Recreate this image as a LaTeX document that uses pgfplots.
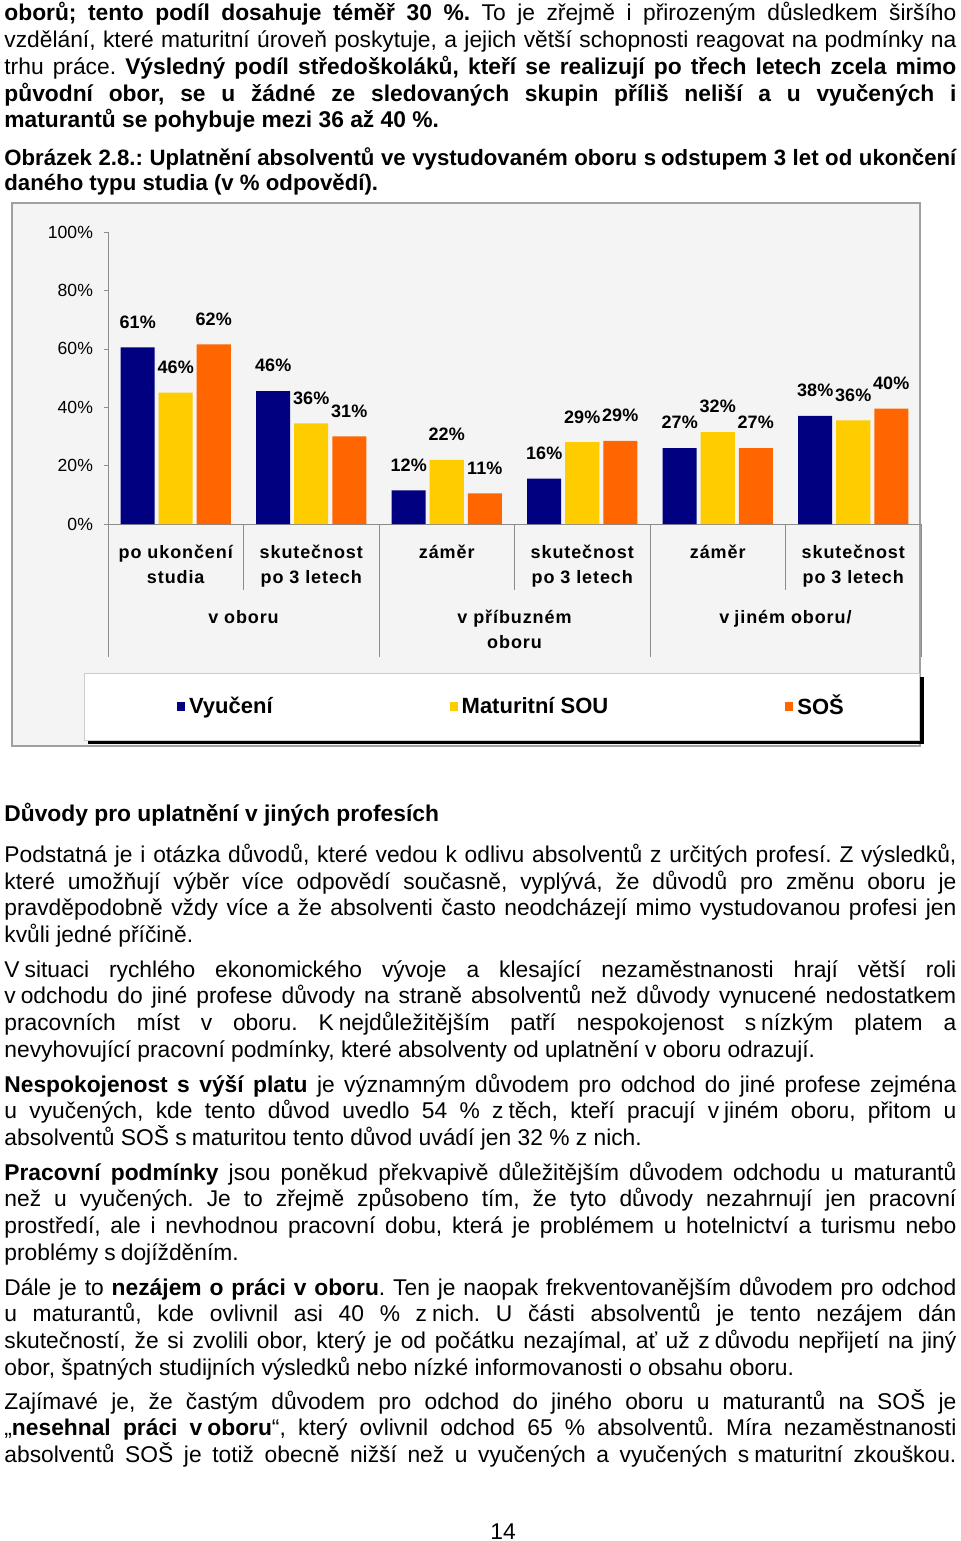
\documentclass[border=0pt]{standalone}
\usepackage{fontspec}
\setmainfont{Liberation Sans}
\newfontfamily\spacedfont[LetterSpace=5]{Liberation Sans}
\usepackage{pgfplots}
\pgfplotsset{compat=1.18}
\frenchspacing
\definecolor{navy}{HTML}{000080}
\definecolor{gold}{HTML}{FFCC00}
\definecolor{orng}{HTML}{FF6600}
\definecolor{chartbg}{HTML}{F4F4F4}
\definecolor{framegray}{HTML}{A0A0A0}
\definecolor{axgray}{HTML}{8C8C8C}
\newcommand{\nb}{\nobreak\hspace{2.5pt}}
\newcommand{\para}[2]{\node[anchor=base west, inner sep=0pt, text width=476pt, align=justify, font=\fontsize{11.4}{13.35}\selectfont] at (2pt,#1) {#2};}
\begin{document}
\begin{tikzpicture}
\path[use as bounding box] (0,0) rectangle (480pt,-770.5pt);
% text above the chart
\para{-10.5pt}{\textbf{oborů; tento podíl dosahuje téměř 30 \%.} To je zřejmě i přirozeným důsledkem širšího\linebreak
vzdělání, které maturitní úroveň poskytuje, a jejich větší schopnosti reagovat na podmínky na\linebreak
trhu práce. \textbf{Výsledný podíl středoškoláků, kteří se realizují po třech letech zcela mimo\linebreak
původní obor, se u žádné ze sledovaných skupin příliš neliší a u vyučených i\linebreak
maturantů se pohybuje mezi 36 až 40 \%.}}
\node[anchor=base west, inner sep=0pt, text width=476pt, align=justify, font=\bfseries\fontsize{11.1}{12.6}\selectfont] at (2pt,-82.5pt) {Obrázek 2.8.: Uplatnění absolventů ve vystudovaném oboru s\nb odstupem 3 let od ukončení\linebreak
daného typu studia (v \% odpovědí).};
% chart frame
\fill[chartbg] (6pt,-101.5pt) rectangle (460pt,-373pt);
\draw[framegray, line width=0.75pt] (6pt,-101.5pt) rectangle (460pt,-373pt);
\fill[black] (44pt,-338.5pt) rectangle (462pt,-372pt);
\filldraw[fill=white, draw=black!20, line width=0.4pt] (42pt,-336.5pt) rectangle (459.5pt,-370pt);
\begin{axis}[
 at={(54pt,-262pt)}, anchor=south west,
 width=406.5pt, height=146pt, scale only axis,
 xmin=-0.5, xmax=5.5, ymin=0, ymax=100,
 clip=false,
 ybar=2pt, bar width=17pt,
 axis x line=bottom, axis y line=left,
 axis line style={-, draw=axgray},
 ytick={0,20,40,60,80,100},
 yticklabels={0\%,20\%,40\%,60\%,80\%,100\%},
 yticklabel style={font=\fontsize{8.8}{10}\selectfont, xshift=-2pt},
 tick align=outside, major tick length=2pt,
 ytick style={draw=axgray},
 xtick={0,1,2,3,4,5},
 xtick style={draw=none},
 xticklabels={{po ukončení\\studia},{skutečnost\\po 3 letech},{záměr},{skutečnost\\po 3 letech},{záměr},{skutečnost\\po 3 letech}},
 xticklabel style={align=center, font=\spacedfont\bfseries\fontsize{9}{12.5}\selectfont, yshift=-5pt},
 nodes near coords,
 point meta=explicit symbolic,
 every node near coord/.append style={font=\bfseries\fontsize{9}{10}\selectfont, yshift=6pt},
 legend columns=3,
 legend style={at={(0.4975,-0.625)}, anchor=center, draw=none, fill=none,
   font=\bfseries\fontsize{11}{13}\selectfont,
   /tikz/every even column/.append style={column sep=86.5pt}},
]
\addplot[fill=navy, draw=none, legend image code/.code={\fill[navy] (-2pt,-2pt) rectangle (2pt,2.5pt);}]
 coordinates {(0,60.5)[61\%] (1,45.5)[46\%] (2,11.5)[12\%] (3,15.5)[16\%] (4,26)[27\%] (5,37)[38\%]};
\addlegendentry{Vyučení}
\addplot[fill=gold, draw=none, legend image code/.code={\fill[gold] (-2pt,-2pt) rectangle (2pt,2.5pt);}]
 coordinates {(0,45)[46\%] (1,34.5)[36\%] (2,22)[22\%] (3,28)[29\%] (4,31.5)[32\%] (5,35.5)[36\%]};
\addlegendentry{Maturitní SOU}
\addplot[fill=orng, draw=none, legend image code/.code={\fill[orng] (-2pt,-2pt) rectangle (2pt,2.5pt);}]
 coordinates {(0,61.5)[62\%] (1,30)[31\%] (2,10.5)[11\%] (3,28.5)[29\%] (4,26)[27\%] (5,39.5)[40\%]};
\addlegendentry{SOŠ}
\draw[axgray] (axis cs:-0.5,0) -- ++(0pt,-66.5pt);
\draw[axgray] (axis cs:1.5,0) -- ++(0pt,-66.5pt);
\draw[axgray] (axis cs:3.5,0) -- ++(0pt,-66.5pt);
\draw[axgray] (axis cs:5.5,0) -- ++(0pt,-66.5pt);
\draw[axgray] (axis cs:0.5,0) -- ++(0pt,-33pt);
\draw[axgray] (axis cs:2.5,0) -- ++(0pt,-33pt);
\draw[axgray] (axis cs:4.5,0) -- ++(0pt,-33pt);
\node[anchor=base, inner sep=0pt, font=\spacedfont\bfseries\fontsize{9}{12.5}\selectfont] at ([yshift=-49.5pt]axis cs:0.5,0) {v oboru};
\node[anchor=base, inner sep=0pt, font=\spacedfont\bfseries\fontsize{9}{12.5}\selectfont] at ([yshift=-49.5pt]axis cs:2.5,0) {v příbuzném};
\node[anchor=base, inner sep=0pt, font=\spacedfont\bfseries\fontsize{9}{12.5}\selectfont] at ([yshift=-62pt]axis cs:2.5,0) {oboru};
\node[anchor=base, inner sep=0pt, font=\spacedfont\bfseries\fontsize{9}{12.5}\selectfont] at ([yshift=-49.5pt]axis cs:4.5,0) {v\nb jiném oboru/};
\end{axis}
% text below the chart
\node[anchor=base west, inner sep=0pt, font=\bfseries\fontsize{11.4}{13.35}\selectfont] at (2pt,-410.5pt) {Důvody pro uplatnění v jiných profesích};
\para{-431.25pt}{Podstatná je i otázka důvodů, které vedou k odlivu absolventů z určitých profesí. Z výsledků,\linebreak
které umožňují výběr více odpovědí současně, vyplývá, že důvodů pro změnu oboru je\linebreak
pravděpodobně vždy více a že absolventi často neodcházejí mimo vystudovanou profesi jen\linebreak
kvůli jedné příčině.}
\para{-488.5pt}{V\nb situaci rychlého ekonomického vývoje a klesající nezaměstnanosti hrají větší roli\linebreak
v\nb odchodu do jiné profese důvody na straně absolventů než důvody vynucené nedostatkem\linebreak
pracovních míst v oboru. K\nb nejdůležitějším patří nespokojenost s\nb nízkým platem a\linebreak
nevyhovující pracovní podmínky, které absolventy od uplatnění v oboru odrazují.}
\para{-546pt}{\textbf{Nespokojenost s výší platu} je významným důvodem pro odchod do jiné profese zejména\linebreak
u vyučených, kde tento důvod uvedlo 54 \% z\nb těch, kteří pracují v\nb jiném oboru, přitom u\linebreak
absolventů SOŠ s\nb maturitou tento důvod uvádí jen 32 \% z nich.}
\para{-590pt}{\textbf{Pracovní podmínky} jsou poněkud překvapivě důležitějším důvodem odchodu u maturantů\linebreak
než u vyučených. Je to zřejmě způsobeno tím, že tyto důvody nezahrnují jen pracovní\linebreak
prostředí, ale i nevhodnou pracovní dobu, která je problémem u hotelnictví a turismu nebo\linebreak
problémy s\nb dojížděním.}
\para{-647.5pt}{Dále je to \textbf{nezájem o práci v oboru}. Ten je naopak frekventovanějším důvodem pro odchod\linebreak
u maturantů, kde ovlivnil asi 40 \% z\nb nich. U části absolventů je tento nezájem dán\linebreak
skutečností, že si zvolili obor, který je od počátku nezajímal, ať už z\nb důvodu nepřijetí na jiný\linebreak
obor, špatných studijních výsledků nebo nízké informovanosti o obsahu oboru.}
\para{-704.5pt}{Zajímavé je, že častým důvodem pro odchod do jiného oboru u maturantů na SOŠ je\linebreak
„\textbf{nesehnal práci v\nb oboru}“, který ovlivnil odchod 65 \% absolventů. Míra nezaměstnanosti\linebreak
\makebox[476pt][s]{absolventů SOŠ je totiž obecně nižší než u vyučených a vyučených s\nb maturitní zkouškou.}}
\node[anchor=base, inner sep=0pt, font=\fontsize{11.4}{13.35}\selectfont] at (251.5pt,-769.5pt) {14};
\end{tikzpicture}
\end{document}
